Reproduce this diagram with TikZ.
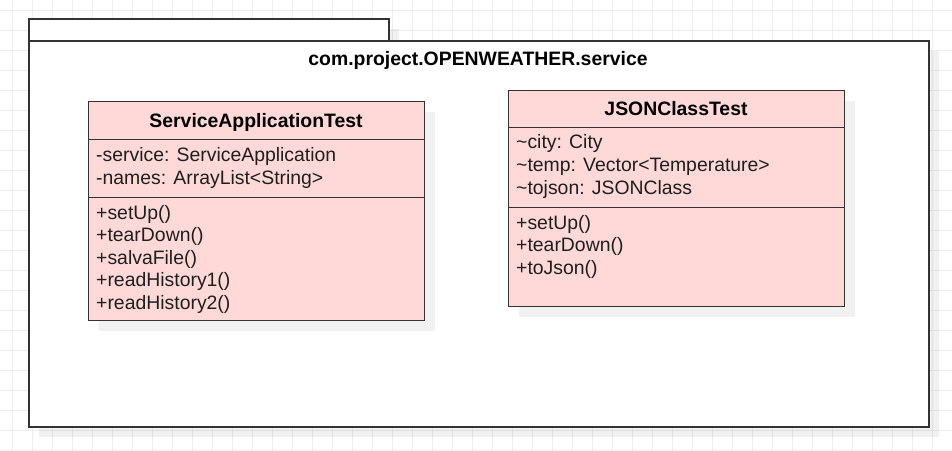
\documentclass[tikz,border=0pt]{standalone}
\usepackage{fontspec}
\setmainfont{Liberation Sans}
\usetikzlibrary{shadows}
\definecolor{boxline}{HTML}{333333}
\definecolor{classfill}{HTML}{FFD8D8}
\definecolor{gridc}{HTML}{EDEDED}
\definecolor{txt}{HTML}{1E1E1E}
\begin{document}
\begin{tikzpicture}[x=1pt,y=-1pt,
  shadowed/.style={drop shadow={shadow xshift=10pt,shadow yshift=-10pt,fill=black,opacity=0.055}},
  pkgbox/.style={draw=boxline,line width=1.5pt,fill=white,shadowed,inner sep=0pt,anchor=north west},
  compart/.style={draw=boxline,line width=1.3pt,fill=classfill,shadowed,inner sep=0pt,anchor=north west,minimum width=336pt},
  titletext/.style={font=\fontsize{19.4}{23}\selectfont\bfseries,text=black,inner sep=0pt,anchor=base},
  memtext/.style={font=\fontsize{19.4}{23}\selectfont,text=txt,inner sep=0pt,anchor=base west}]
\useasboundingbox (0,0) rectangle (952,450);
\fill[white] (0,0) rectangle (952,450);
% grid
\foreach \x in {12,32,...,952} \draw[gridc,line width=1pt] (\x,0) -- (\x,450);
\foreach \y in {10,30,...,450} \draw[gridc,line width=1pt] (0,\y) -- (952,\y);
% package
\node[pkgbox,minimum width=360pt,minimum height=22pt] (tab) at (28,18) {};
\node[pkgbox,minimum width=900pt,minimum height=386pt] (pkg) at (28,40) {};
\node[titletext] (pkgname) at (478,65) {com.project.OPENWEATHER.service};
% ServiceApplicationTest
\node[compart,minimum height=38pt] (satTitle) at (88,101) {};
\node[compart,minimum height=58pt] (satAttr) at (88,139) {};
\node[compart,minimum height=123pt] (satOps) at (88,197) {};
\node[titletext] (satName) at (256,127) {ServiceApplicationTest};
\node[memtext] (satA1) at (96,161) {-service: ServiceApplication};
\node[memtext] (satA2) at (96,184) {-names: ArrayList<String>};
\node[memtext] (satM1) at (96,219) {+setUp()};
\node[memtext] (satM2) at (96,241.5) {+tearDown()};
\node[memtext] (satM3) at (96,264) {+salvaFile()};
\node[memtext] (satM4) at (96,286.5) {+readHistory1()};
\node[memtext] (satM5) at (96,309) {+readHistory2()};
% JSONClassTest
\node[compart,minimum height=37pt] (jsonTitle) at (508,90) {};
\node[compart,minimum height=80pt] (jsonAttr) at (508,127) {};
\node[compart,minimum height=99pt] (jsonOps) at (508,207) {};
\node[titletext] (jsonName) at (676,115) {JSONClassTest};
\node[memtext] (jsonA1) at (516,148) {\textasciitilde city: City};
\node[memtext] (jsonA2) at (516,171) {\textasciitilde temp: Vector<Temperature>};
\node[memtext] (jsonA3) at (516,194) {\textasciitilde tojson: JSONClass};
\node[memtext] (jsonM1) at (516,229) {+setUp()};
\node[memtext] (jsonM2) at (516,251.5) {+tearDown()};
\node[memtext] (jsonM3) at (516,274) {+toJson()};
\end{tikzpicture}
\end{document}
